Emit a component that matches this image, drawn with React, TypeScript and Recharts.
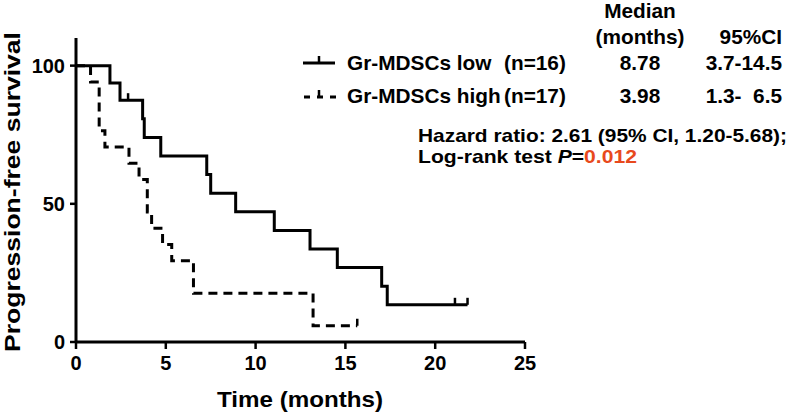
import React from 'react';
import { LineChart, Line, XAxis, YAxis } from 'recharts';

// Kaplan-Meier steps (months, % progression-free)
const lowTime = [0, 1.89, 2.45, 2.9, 3.71, 3.8, 4.72, 7.28, 7.5, 8.89, 11.04, 13.03, 14.55, 17.02, 17.33, 21.1, 21.8];
const lowSurv = [100, 93.75, 87.5, 87.5, 80.77, 74.04, 67.31, 60.58, 53.85, 47.12, 40.38, 33.65, 26.92, 20.19, 13.46, 13.46, 13.46];
const lowCensored = [2.9, 21.1, 21.8];

const highTime = [0, 0.81, 1.29, 1.61, 2.95, 3.51, 3.97, 4.21, 4.82, 5.33, 6.54, 13.2, 15.66];
const highSurv = [100, 94.12, 76.47, 70.59, 64.71, 58.82, 47.06, 41.18, 35.29, 29.41, 17.65, 5.88, 5.88];
const highCensored = [15.66];

const xTicks = [0, 5, 10, 15, 20, 25];
const yTicks = [0, 50, 100];

const lowData = lowTime.map((t, i) => ({ t, s: lowSurv[i], c: lowCensored.includes(t) }));
const highData = highTime.map((t, i) => ({ t, s: highSurv[i], c: highCensored.includes(t) }));

const FONT = "'Liberation Sans', Arial, sans-serif";

// small vertical tick on censored observations
const CensorTick = (props: any) => {
  const { cx, cy, payload, index } = props;
  if (!payload || !payload.c) return <g key={`n${index}`} />;
  return <line key={`c${index}`} x1={cx} x2={cx} y1={cy - 7} y2={cy} stroke="#000" strokeWidth={2.5} />;
};

export default function App() {
  const tickStyle = { fill: '#000', fontSize: 20, fontWeight: 'bold', fontFamily: FONT };
  return (
    <div style={{ position: 'absolute', left: 0, top: 0, width: 789, height: 414, background: '#fff' }}>
      <LineChart width={789} height={414} margin={{ top: 38, right: 264, bottom: 42, left: 16 }}>
        <XAxis
          dataKey="t"
          type="number"
          domain={[0, 25]}
          ticks={xTicks}
          axisLine={{ stroke: '#000', strokeWidth: 3 }}
          tickLine={{ stroke: '#000', strokeWidth: 2.5 }}
          tickSize={7}
          tickMargin={7}
          tick={tickStyle}
          height={30}
        />
        <YAxis
          type="number"
          domain={[0, 110]}
          ticks={yTicks}
          axisLine={{ stroke: '#000', strokeWidth: 3 }}
          tickLine={{ stroke: '#000', strokeWidth: 2.5 }}
          tickSize={6}
          tickMargin={5}
          tick={tickStyle}
          width={60}
        />
        <Line
          data={lowData}
          dataKey="s"
          type="stepAfter"
          stroke="#000"
          strokeWidth={3}
          dot={CensorTick}
          activeDot={false}
          isAnimationActive={false}
        />
        <Line
          data={highData}
          dataKey="s"
          type="stepAfter"
          stroke="#000"
          strokeWidth={3}
          strokeDasharray="9 6"
          dot={CensorTick}
          activeDot={false}
          isAnimationActive={false}
        />
      </LineChart>

      <svg width={789} height={414} style={{ position: 'absolute', left: 0, top: 0, pointerEvents: 'none' }}>
        <g fontFamily={FONT} fontWeight="bold" fill="#000">
          <text x={0} y={0} fontSize={22} textAnchor="middle" textLength={320} lengthAdjust="spacingAndGlyphs"
            transform="translate(20,192) rotate(-90)">Progression-free survival</text>
          <text x={300} y={407} fontSize={22} textAnchor="middle" textLength={166} lengthAdjust="spacingAndGlyphs">Time (months)</text>

          <g fontSize={20.8}>
            <text x={640} y={18} textAnchor="middle">Median</text>
            <text x={640} y={44} textAnchor="middle">(months)</text>
            <text x={782} y={44} textAnchor="end">95%CI</text>

            <line x1={303} x2={335} y1={63} y2={63} stroke="#000" strokeWidth={3} />
            <line x1={319} x2={319} y1={56} y2={63} stroke="#000" strokeWidth={2.5} />
            <text x={347} y={70}>Gr-MDSCs low</text>
            <text x={504} y={70}>(n=16)</text>
            <text x={640} y={70} textAnchor="middle">8.78</text>
            <text x={782} y={70} textAnchor="end">3.7-14.5</text>

            <line x1={304} x2={337} y1={97} y2={97} stroke="#000" strokeWidth={3} strokeDasharray="6 7" />
            <line x1={319} x2={319} y1={90} y2={97} stroke="#000" strokeWidth={2.5} />
            <text x={347} y={103}>Gr-MDSCs high</text>
            <text x={504} y={103}>(n=17)</text>
            <text x={640} y={103} textAnchor="middle">3.98</text>
            <text x={782} y={103} textAnchor="end" style={{ whiteSpace: 'pre' }}>{'1.3-  6.5'}</text>
          </g>

          <g fontSize={19}>
            <text x={418} y={142} textLength={369} lengthAdjust="spacingAndGlyphs">Hazard ratio: 2.61 (95% CI, 1.20-5.68);</text>
            <text x={418} y={163} textLength={219} lengthAdjust="spacingAndGlyphs">
              Log-rank test <tspan fontStyle="italic">P</tspan>=<tspan fill="#E8491D">0.012</tspan>
            </text>
          </g>
        </g>
      </svg>
    </div>
  );
}
